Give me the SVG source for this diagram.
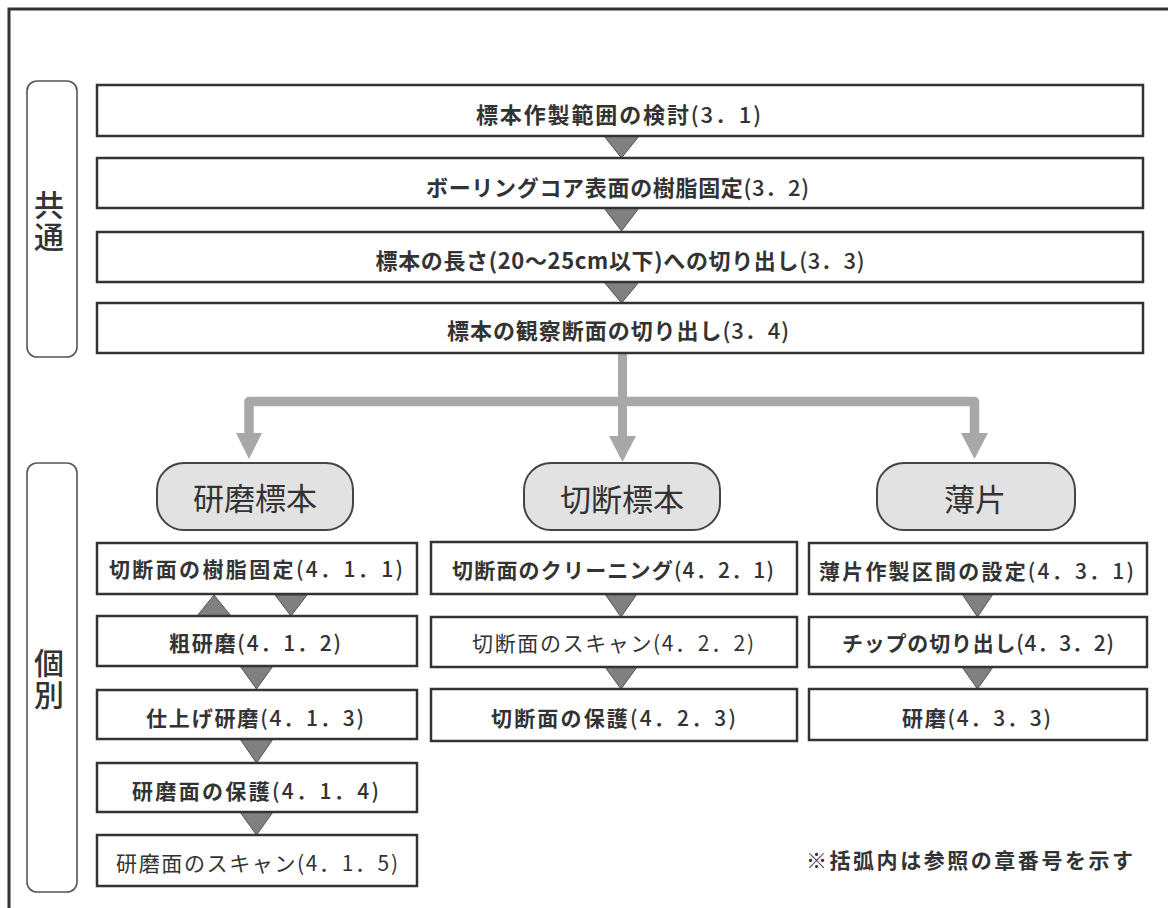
<svg xmlns="http://www.w3.org/2000/svg" width="1168" height="908" viewBox="0 0 1168 908">
<style>
text{font-family:"Noto Sans CJK JP","Noto Sans CJK SC",sans-serif;fill:#333;text-anchor:middle}
.box{fill:#fff;stroke:#333;stroke-width:2.5}
.lbl{fill:#fff;stroke:#555;stroke-width:1.6}
.pill{fill:#e2e2e2;stroke:#444;stroke-width:2}
.tri{fill:#808080;stroke:#555;stroke-width:1}
.ah{fill:#a8a8a8}
.t20{font-size:22px;font-weight:600}
.tb{font-size:21px;font-weight:700}
.tr{font-size:21px;font-weight:400}
.tp{font-size:31px;font-weight:400}
.tl{font-size:30px;font-weight:500;writing-mode:vertical-rl;letter-spacing:2px}
.n{font-weight:500}
</style>
<rect x="0" y="0" width="1168" height="908" fill="#fff"/>
<path d="M9,908 V9 H1168" fill="none" stroke="#333" stroke-width="3"/>

<g id="label-common"><rect class="lbl" x="27" y="81" width="50" height="276" rx="10"/><text class="tl" x="49" y="222">共通</text></g>
<g id="label-individual"><rect class="lbl" x="27" y="463" width="50" height="429" rx="10"/><text class="tl" x="49" y="680">個別</text></g>

<g id="connectors">
<path d="M249,436 V401.5 H974.5 V436" fill="none" stroke="#a8a8a8" stroke-width="9.5" stroke-linejoin="round"/>
<path d="M622.5,353 V438" fill="none" stroke="#a8a8a8" stroke-width="9"/>
<polygon class="ah" points="236,433 262,433 249,459"/>
<polygon class="ah" points="609,436 636,436 622.5,462"/>
<polygon class="ah" points="961,433 988,433 974.5,459"/>
<polygon class="tri" points="604,136 639,136 621.5,158"/>
<polygon class="tri" points="604,208 639,208 621.5,231"/>
<polygon class="tri" points="604,282 639,282 621.5,303"/>
<polygon class="tri" points="197,616 231,616 214,595"/>
<polygon class="tri" points="275,595 307,595 291,616"/>
<polygon class="tri" points="240,666 273,666 256.5,689"/>
<polygon class="tri" points="240,739 273,739 256.5,763"/>
<polygon class="tri" points="240,812 273,812 256.5,835"/>
<polygon class="tri" points="605,594 637,594 621,617"/>
<polygon class="tri" points="605,667 637,667 621,689"/>
<polygon class="tri" points="962,594 993,594 977.5,617"/>
<polygon class="tri" points="962,667 993,667 977.5,689"/>
</g>

<g id="n31"><rect class="box" x="97" y="85" width="1046" height="51"/><text class="t20" x="618.5" y="123" textLength="285" lengthAdjust="spacing">標本作製範囲の検討<tspan class="n">(3．1)</tspan></text></g>
<g id="n32"><rect class="box" x="97" y="158" width="1046" height="50"/><text class="t20" x="617.5" y="196" textLength="383" lengthAdjust="spacing">ボーリングコア表面の樹脂固定<tspan class="n">(3．2)</tspan></text></g>
<g id="n33"><rect class="box" x="97" y="232" width="1046" height="50"/><text class="t20" x="620" y="269" textLength="489" lengthAdjust="spacing">標本の長さ(20～25cm以下)への切り出し<tspan class="n">(3．3)</tspan></text></g>
<g id="n34"><rect class="box" x="97" y="303" width="1046" height="50"/><text class="t20" x="618" y="339" textLength="342" lengthAdjust="spacing">標本の観察断面の切り出し<tspan class="n">(3．4)</tspan></text></g>

<g id="p1"><rect class="pill" x="157" y="463" width="196" height="67" rx="27"/><text class="tp" x="255" y="510">研磨標本</text></g>
<g id="p2"><rect class="pill" x="524" y="463" width="196" height="67" rx="27"/><text class="tp" x="622" y="511">切断標本</text></g>
<g id="p3"><rect class="pill" x="877" y="463" width="198" height="67" rx="27"/><text class="tp" x="975" y="511">薄片</text></g>

<g id="n411"><rect class="box" x="97" y="543" width="320" height="51"/><text class="tb" x="256" y="577" textLength="294" lengthAdjust="spacing">切断面の樹脂固定<tspan class="n">(4．1．1)</tspan></text></g>
<g id="n412"><rect class="box" x="97" y="616" width="320" height="50"/><text class="tb" x="255" y="651" textLength="172" lengthAdjust="spacing">粗研磨<tspan class="n">(4．1．2)</tspan></text></g>
<g id="n413"><rect class="box" x="97" y="690" width="320" height="49"/><text class="tb" x="255" y="726" textLength="218" lengthAdjust="spacing">仕上げ研磨<tspan class="n">(4．1．3)</tspan></text></g>
<g id="n414"><rect class="box" x="97" y="763" width="320" height="49"/><text class="tb" x="255.5" y="799" textLength="247" lengthAdjust="spacing">研磨面の保護<tspan class="n">(4．1．4)</tspan></text></g>
<g id="n415"><rect class="box" x="97" y="835" width="320" height="51"/><text class="tr" x="257" y="871" textLength="282" lengthAdjust="spacing">研磨面のスキャン(4．1．5)</text></g>

<g id="n421"><rect class="box" x="431" y="542" width="366" height="52"/><text class="tb" x="613" y="578" textLength="322" lengthAdjust="spacing">切断面のクリーニング<tspan class="n">(4．2．1)</tspan></text></g>
<g id="n422"><rect class="box" x="431" y="617" width="366" height="50"/><text class="tr" x="613" y="650.5" textLength="282" lengthAdjust="spacing">切断面のスキャン(4．2．2)</text></g>
<g id="n423"><rect class="box" x="431" y="689" width="366" height="52"/><text class="tb" x="613.5" y="725.5" textLength="245" lengthAdjust="spacing">切断面の保護<tspan class="n">(4．2．3)</tspan></text></g>

<g id="n431"><rect class="box" x="809" y="543" width="338" height="51"/><text class="tb" x="976.5" y="579" textLength="315" lengthAdjust="spacing">薄片作製区間の設定<tspan class="n">(4．3．1)</tspan></text></g>
<g id="n432"><rect class="box" x="809" y="617" width="338" height="50"/><text class="tb" x="978" y="651" textLength="272" lengthAdjust="spacing">チップの切り出し<tspan class="n">(4．3．2)</tspan></text></g>
<g id="n433"><rect class="box" x="809" y="689" width="338" height="51"/><text class="tb" x="976.5" y="725.5" textLength="149" lengthAdjust="spacing">研磨<tspan class="n">(4．3．3)</tspan></text></g>

<g id="note"><text class="tb" x="969.5" y="868" textLength="327" lengthAdjust="spacing">※括弧内は参照の章番号を示す</text></g>
</svg>
